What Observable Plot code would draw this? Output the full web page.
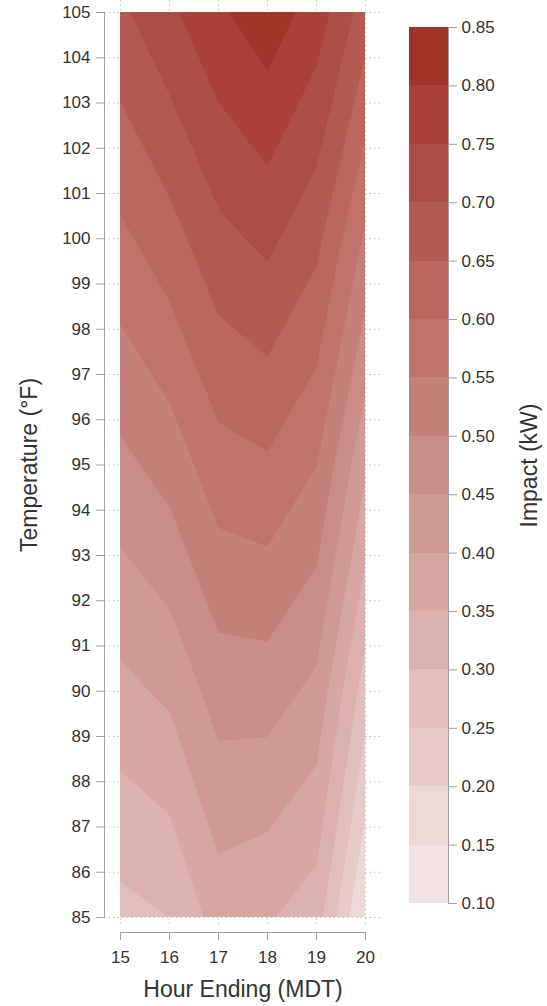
<!DOCTYPE html>
<html>
<head>
<meta charset="utf-8">
<script src="https://cdn.jsdelivr.net/npm/d3@7"></script>
<script src="https://cdn.jsdelivr.net/npm/@observablehq/plot@0.6"></script>
<style>
  html, body { margin: 0; padding: 0; background: #fff; }
  #wrap { position: relative; width: 547px; height: 1006px; overflow: hidden; }
  #main { position: absolute; left: 0; top: 0; }
  #legend { position: absolute; left: 394px; top: 0; }
</style>
</head>
<body>
<div id="wrap"><div id="main"></div><div id="legend"></div></div>
<script>
// Hours (x) and temperatures (y) of the sampled grid
const hours = [15, 16, 17, 18, 19, 20];
const temps = [85, 90, 95, 100, 105];
// Impact (kW) at each hour, one array per temperature
const impactAt85  = [0.284, 0.300, 0.372, 0.355, 0.324, 0.140];
const impactAt90  = [0.386, 0.410, 0.472, 0.474, 0.437, 0.274];
const impactAt95  = [0.487, 0.520, 0.580, 0.593, 0.551, 0.408];
const impactAt100 = [0.589, 0.630, 0.686, 0.712, 0.664, 0.541];
const impactAt105 = [0.690, 0.740, 0.792, 0.831, 0.777, 0.675];
// Contour levels / legend ticks
const levels = [0.10, 0.15, 0.20, 0.25, 0.30, 0.35, 0.40, 0.45, 0.50, 0.55, 0.60, 0.65, 0.70, 0.75, 0.80, 0.85];
// Axis ticks
const hourTicks = [15, 16, 17, 18, 19, 20];
const tempTicks = [85, 86, 87, 88, 89, 90, 91, 92, 93, 94, 95, 96, 97, 98, 99, 100, 101, 102, 103, 104, 105];
const xTitle = "Hour Ending (MDT)";
const yTitle = "Temperature (°F)";
const legendTitle = "Impact (kW)";

const rows = [impactAt85, impactAt90, impactAt95, impactAt100, impactAt105];
const values = rows.flat();
const stepX = hours[1] - hours[0];
const stepY = temps[1] - temps[0];

const font = "'Liberation Sans', Arial, Helvetica, sans-serif";
const axisGray = "#a0a0a0";
const textColor = "#333333";
const colorOpts = {type: "linear", domain: [0.10, 0.80], range: ["#f2e4e4", "#a2352a"], interpolate: "rgb"};

const main = Plot.plot({
  width: 394, height: 1006,
  marginLeft: 120, marginRight: 29, marginTop: 12, marginBottom: 89,
  style: {fontFamily: font, fontSize: "17px", color: textColor, background: "transparent"},
  x: {domain: [hours[0], hours[hours.length - 1]]},
  y: {domain: [temps[0], temps[temps.length - 1]]},
  color: colorOpts,
  marks: [
    Plot.ruleX(hourTicks, {x: d => d, stroke: "#c4c4c4", strokeDasharray: "1.5,3", insetTop: -12, insetBottom: -8}),
    Plot.ruleY(tempTicks, {y: d => d, stroke: "#c4c4c4", strokeDasharray: "1.5,3", insetLeft: -16, insetRight: -15}),
    Plot.contour(values, {
      width: hours.length, height: temps.length,
      x1: hours[0] - stepX / 2, x2: hours[hours.length - 1] + stepX / 2,
      y1: temps[0] - stepY / 2, y2: temps[temps.length - 1] + stepY / 2,
      fill: Plot.identity, thresholds: levels, clip: true
    }),
    Plot.frame({anchor: "left", dx: -16, stroke: axisGray}),
    Plot.frame({anchor: "bottom", dy: 15, stroke: axisGray}),
    Plot.axisY(tempTicks, {anchor: "left", dx: -16, tickSize: 8, tickPadding: 6, stroke: axisGray, fill: textColor, fontSize: 17, label: null}),
    Plot.axisX(hourTicks, {anchor: "bottom", dy: 15, tickSize: 8, tickPadding: 10, stroke: axisGray, fill: textColor, fontSize: 17, label: null}),
    Plot.text([xTitle], {frameAnchor: "bottom", dy: 72.6, textAnchor: "middle", lineAnchor: "middle", fontSize: 23, fill: textColor}),
    Plot.text([yTitle], {frameAnchor: "left", dx: -91, rotate: -90, textAnchor: "middle", lineAnchor: "middle", fontSize: 23, fill: textColor})
  ]
});
document.getElementById("main").appendChild(main);

const bands = levels.slice(0, -1).map((lo, i) => ({lo, hi: levels[i + 1]}));
const legend = Plot.plot({
  width: 153, height: 1006,
  marginLeft: 15, marginRight: 99, marginTop: 27, marginBottom: 103,
  style: {fontFamily: font, fontSize: "17px", color: textColor, background: "transparent"},
  y: {domain: [levels[0], levels[levels.length - 1]]},
  color: colorOpts,
  marks: [
    Plot.barY(bands, {y1: "lo", y2: "hi", fill: "lo", shapeRendering: "crispEdges"}),
    Plot.frame({anchor: "right", stroke: axisGray}),
    Plot.axisY(levels, {anchor: "right", tickSize: 8, tickPadding: 5, tickFormat: d3.format(".2f"), stroke: axisGray, fill: textColor, fontSize: 17, label: null}),
    Plot.text([legendTitle], {frameAnchor: "right", dx: 81.6, rotate: -90, textAnchor: "middle", lineAnchor: "middle", fontSize: 23, fill: textColor})
  ]
});
document.getElementById("legend").appendChild(legend);
</script>
</body>
</html>
